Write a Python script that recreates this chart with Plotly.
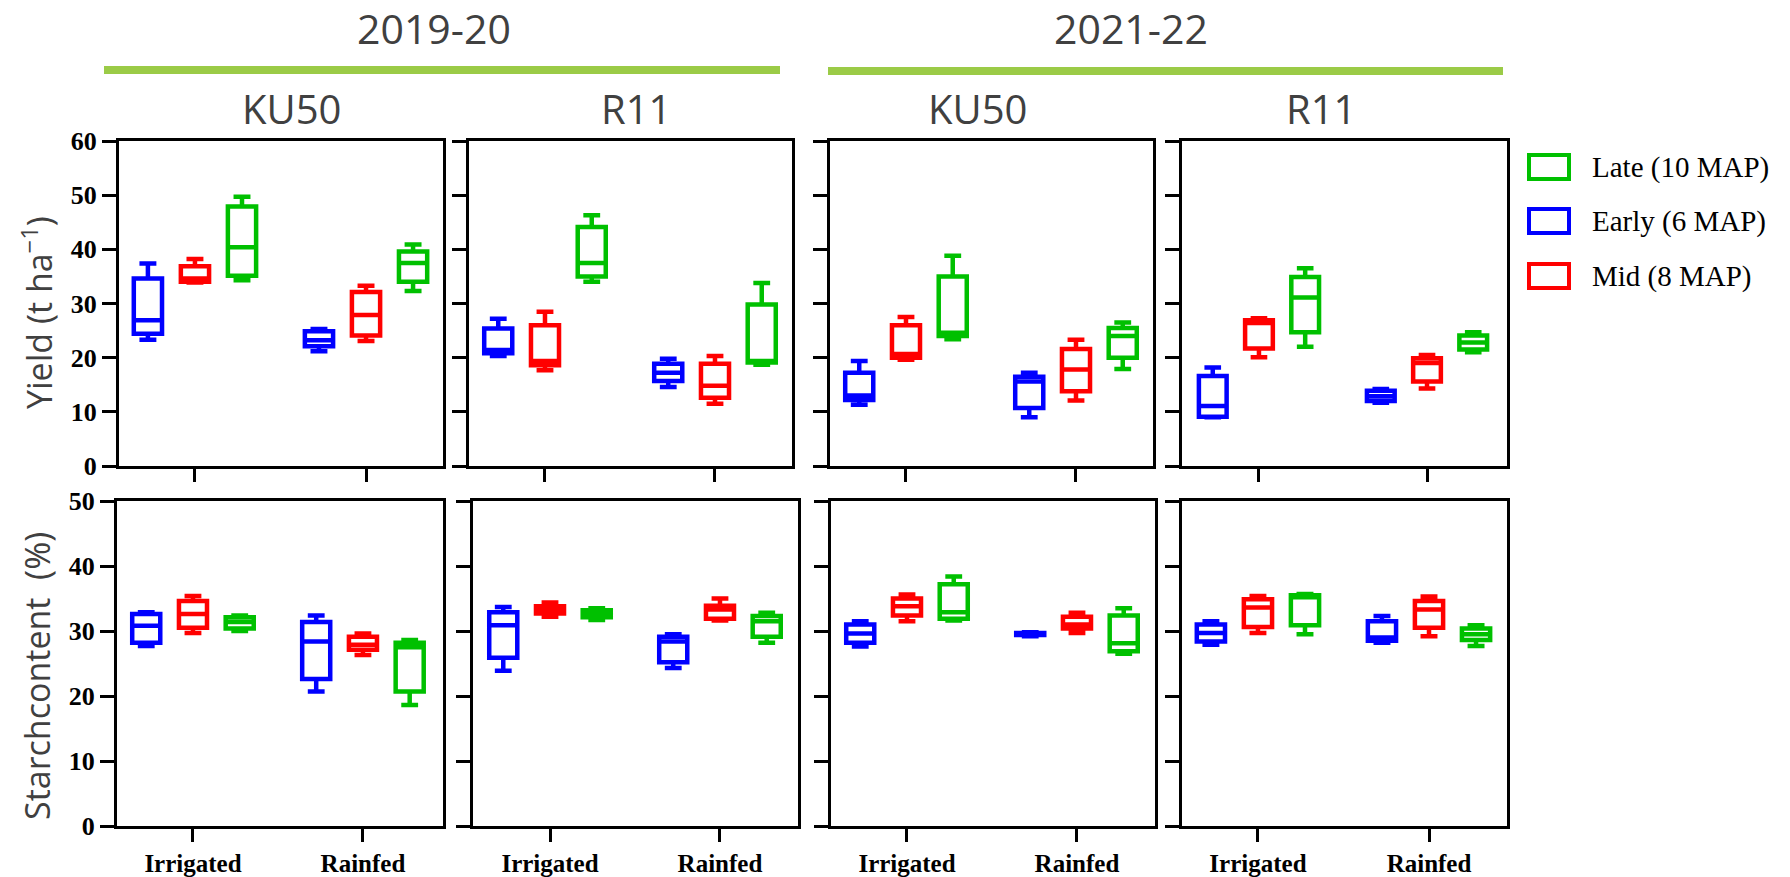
import plotly.graph_objects as go

W, H = 1790, 877

# ---------------- data ----------------
conditions = ["Irrigated", "Rainfed"]
stages = ["Early (6 MAP)", "Mid (8 MAP)", "Late (10 MAP)"]
legend_order = ["Late (10 MAP)", "Early (6 MAP)", "Mid (8 MAP)"]
seasons = ["2019-20", "2021-22"]
cultivars = ["KU50", "R11"]
yield_ticks = [0, 10, 20, 30, 40, 50, 60]
starch_ticks = [0, 10, 20, 30, 40, 50]

# each row: [min, Q1, median, Q3, max]; first row Irrigated, second Rainfed
yield_1920_ku50_early = [[23.3, 24.4, 26.9, 34.6, 37.4], [21.2, 22.1, 23.2, 24.9, 25.3]]
yield_1920_ku50_mid = [[33.9, 34.0, 34.6, 36.9, 38.2], [23.1, 24.1, 27.9, 32.1, 33.3]]
yield_1920_ku50_late = [[34.3, 35.1, 40.4, 47.9, 49.7], [32.3, 34.0, 37.5, 39.6, 40.9]]

yield_1920_r11_early = [[20.3, 20.8, 21.4, 25.4, 27.2], [14.6, 15.7, 17.2, 18.9, 19.8]]
yield_1920_r11_mid = [[17.7, 18.6, 19.4, 26.0, 28.5], [11.5, 12.6, 14.8, 18.9, 20.3]]
yield_1920_r11_late = [[34.0, 35.0, 37.5, 44.1, 46.3], [18.7, 19.1, 19.4, 29.8, 33.8]]

yield_2122_ku50_early = [[11.3, 12.2, 13.0, 17.2, 19.4], [9.0, 10.7, 15.6, 16.5, 17.2]]
yield_2122_ku50_mid = [[19.6, 20.0, 20.7, 26.0, 27.5], [12.1, 13.8, 17.8, 21.6, 23.3]]
yield_2122_ku50_late = [[23.4, 24.0, 24.6, 35.0, 38.8], [17.9, 20.0, 24.0, 25.5, 26.5]]

yield_2122_r11_early = [[9.0, 9.1, 11.1, 16.6, 18.2], [11.7, 12.0, 12.9, 13.9, 14.2]]
yield_2122_r11_mid = [[20.1, 21.7, 26.4, 26.9, 27.3], [14.3, 15.6, 19.0, 19.9, 20.5]]
yield_2122_r11_late = [[22.0, 24.7, 31.1, 34.9, 36.5], [21.0, 21.5, 22.8, 24.1, 24.7]]

starch_1920_ku50_early = [[27.7, 28.2, 30.8, 32.6, 32.9], [20.7, 22.6, 28.4, 31.4, 32.4]]
starch_1920_ku50_mid = [[29.7, 30.5, 32.6, 34.6, 35.4], [26.3, 27.1, 27.9, 29.1, 29.6]]
starch_1920_ku50_late = [[30.0, 30.4, 31.4, 32.1, 32.4], [18.6, 20.7, 27.5, 28.2, 28.6]]

starch_1920_r11_early = [[23.9, 25.9, 30.9, 32.9, 33.7], [24.3, 25.2, 28.4, 29.1, 29.5]]
starch_1920_r11_mid = [[32.2, 32.7, 33.3, 33.8, 34.4], [31.6, 31.9, 33.3, 33.9, 35.0]]
starch_1920_r11_late = [[31.7, 32.1, 32.7, 33.2, 33.5], [28.2, 29.1, 31.5, 32.3, 32.8]]

starch_2122_ku50_early = [[27.6, 28.2, 29.6, 31.0, 31.5], [29.2, 29.4, 29.5, 29.7, 29.8]]
starch_2122_ku50_mid = [[31.5, 32.4, 33.8, 35.0, 35.6], [29.7, 30.4, 31.0, 32.2, 32.8]]
starch_2122_ku50_late = [[31.6, 31.9, 32.9, 37.2, 38.4], [26.5, 26.9, 28.1, 32.4, 33.5]]

starch_2122_r11_early = [[27.9, 28.4, 29.7, 31.0, 31.5], [28.2, 28.5, 29.0, 31.5, 32.3]]
starch_2122_r11_mid = [[29.7, 30.6, 33.6, 34.9, 35.4], [29.2, 30.5, 33.3, 34.6, 35.3]]
starch_2122_r11_late = [[29.5, 30.9, 35.2, 35.5, 35.7], [27.7, 28.6, 29.5, 30.4, 30.9]]

yield_panels = [
    [yield_1920_ku50_early, yield_1920_ku50_mid, yield_1920_ku50_late],
    [yield_1920_r11_early, yield_1920_r11_mid, yield_1920_r11_late],
    [yield_2122_ku50_early, yield_2122_ku50_mid, yield_2122_ku50_late],
    [yield_2122_r11_early, yield_2122_r11_mid, yield_2122_r11_late],
]
starch_panels = [
    [starch_1920_ku50_early, starch_1920_ku50_mid, starch_1920_ku50_late],
    [starch_1920_r11_early, starch_1920_r11_mid, starch_1920_r11_late],
    [starch_2122_ku50_early, starch_2122_ku50_mid, starch_2122_ku50_late],
    [starch_2122_r11_early, starch_2122_r11_mid, starch_2122_r11_late],
]

# ---------------- style / layout ----------------
stage_colors = {"Early (6 MAP)": "#0000FF", "Mid (8 MAP)": "#FF0000", "Late (10 MAP)": "#00C000"}
TXT = "#404040"
BAR = "#9BCB47"
SERIF = "Liberation Serif, Times New Roman, serif"
SANS = "Open Sans, Noto Sans, sans-serif"


def px(x):
    return x / W


def py(y):
    return 1 - y / H


# pixel frames of panels (left, right) per row, and (top, bottom) of rows
frames = [
    [(119, 443), (469, 792), (830, 1153), (1182, 1507)],
    [(117, 443), (473, 798), (831, 1155), (1182, 1507)],
]
row_px = [(141, 466), (501, 826)]
xranges = [
    [[-0.444, 1.450], [-0.447, 1.453], [-0.447, 1.453], [-0.458, 1.476]],
    [[-0.447, 1.471], [-0.453, 1.459], [-0.447, 1.459], [-0.444, 1.456]],
]

fig = go.Figure()
layout = {}

for r, (panels, ticks) in enumerate([(yield_panels, yield_ticks), (starch_panels, starch_ticks)]):
    for c in range(4):
        k = r * 4 + c + 1
        xa, ya = f"x{k}", f"y{k}"
        for s, stage in enumerate(stages):
            d = panels[c][s]
            col = stage_colors[stage]
            fig.add_trace(go.Box(
                x=conditions,
                lowerfence=[v[0] for v in d],
                q1=[v[1] for v in d],
                median=[v[2] for v in d],
                q3=[v[3] for v in d],
                upperfence=[v[4] for v in d],
                name=stage,
                offsetgroup=stage,
                line=dict(color=col, width=4.5),
                marker=dict(color=col),
                fillcolor="white",
                whiskerwidth=0.6,
                boxpoints=False,
                showlegend=False,
                hoverinfo="skip",
                xaxis=xa, yaxis=ya,
            ))
        l, rr = frames[r][c]
        t, b = row_px[r]
        axname = "" if k == 1 else str(k)
        layout["xaxis" + axname] = dict(
            domain=[px(l), px(rr)], anchor=ya, range=xranges[r][c],
            type="category", categoryorder="array", categoryarray=conditions,
            showline=True, linecolor="black", linewidth=3, mirror=True,
            ticks="outside", ticklen=13, tickwidth=3, tickcolor="black",
            showticklabels=(r == 1), showgrid=False, zeroline=False,
            tickfont=dict(family=SERIF, size=25, color="black", weight="bold"),
            automargin=False, fixedrange=True,
        )
        layout["yaxis" + axname] = dict(
            domain=[py(b), py(t)], anchor=xa, range=[ticks[0], ticks[-1]],
            tickvals=ticks, showline=True, linecolor="black", linewidth=3, mirror=True,
            ticks="outside", ticklen=14, tickwidth=3, tickcolor="black",
            showticklabels=(c == 0), showgrid=False, zeroline=False,
            tickfont=dict(family=SERIF, size=26, color="black", weight="bold"),
            automargin=False, fixedrange=True,
        )

annotations = []
shapes = []

# season headers with green bars
season_pos = [(434, 28), (1131, 28)]
for name, (x, y) in zip(seasons, season_pos):
    annotations.append(dict(text=name, x=px(x), y=py(y), xref="paper", yref="paper",
                            showarrow=False, xanchor="center", yanchor="middle",
                            font=dict(family=SANS, size=41, color=TXT)))
for x0, x1, y in [(104, 780, 70), (828, 1503, 71)]:
    shapes.append(dict(type="line", xref="paper", yref="paper", x0=px(x0), x1=px(x1),
                       y0=py(y), y1=py(y), line=dict(color=BAR, width=8)))

# cultivar headers
cult_x = [291, 636, 977, 1321]
for i, x in enumerate(cult_x):
    annotations.append(dict(text=cultivars[i % 2], x=px(x), y=py(109), xref="paper", yref="paper",
                            showarrow=False, xanchor="center", yanchor="middle",
                            font=dict(family=SANS, size=40, color=TXT)))

# y titles
annotations.append(dict(text="Yield (t ha<sup>\u22121</sup>)", x=px(37), y=py(313), xref="paper",
                        yref="paper", showarrow=False, textangle=-90, xanchor="center",
                        yanchor="middle", font=dict(family=SANS, size=34, color=TXT)))
annotations.append(dict(text="Starchcontent  (%)", x=px(37), y=py(676), xref="paper",
                        yref="paper", showarrow=False, textangle=-90, xanchor="center",
                        yanchor="middle", font=dict(family=SANS, size=34, color=TXT)))

# legend (drawn)
leg_y = [167, 221, 276]
for name, yc in zip(legend_order, leg_y):
    col = stage_colors[name]
    shapes.append(dict(type="rect", xref="paper", yref="paper",
                       x0=px(1529), x1=px(1569), y0=py(yc - 12), y1=py(yc + 12),
                       line=dict(color=col, width=4), fillcolor="rgba(0,0,0,0)"))
    annotations.append(dict(text=name, x=px(1590), y=py(yc), xref="paper", yref="paper",
                            showarrow=False, xanchor="left", yanchor="middle",
                            font=dict(family=SERIF, size=29, color="black")))

fig.update_layout(
    width=W, height=H, margin=dict(l=0, r=0, t=0, b=0),
    paper_bgcolor="white", plot_bgcolor="white",
    boxmode="group", boxgap=0.175, boxgroupgap=0.4,
    showlegend=False, annotations=annotations, shapes=shapes,
    **layout,
)

fig.write_html("out.html", config={"displayModeBar": False},
               post_script="document.body.style.margin='0px';")
